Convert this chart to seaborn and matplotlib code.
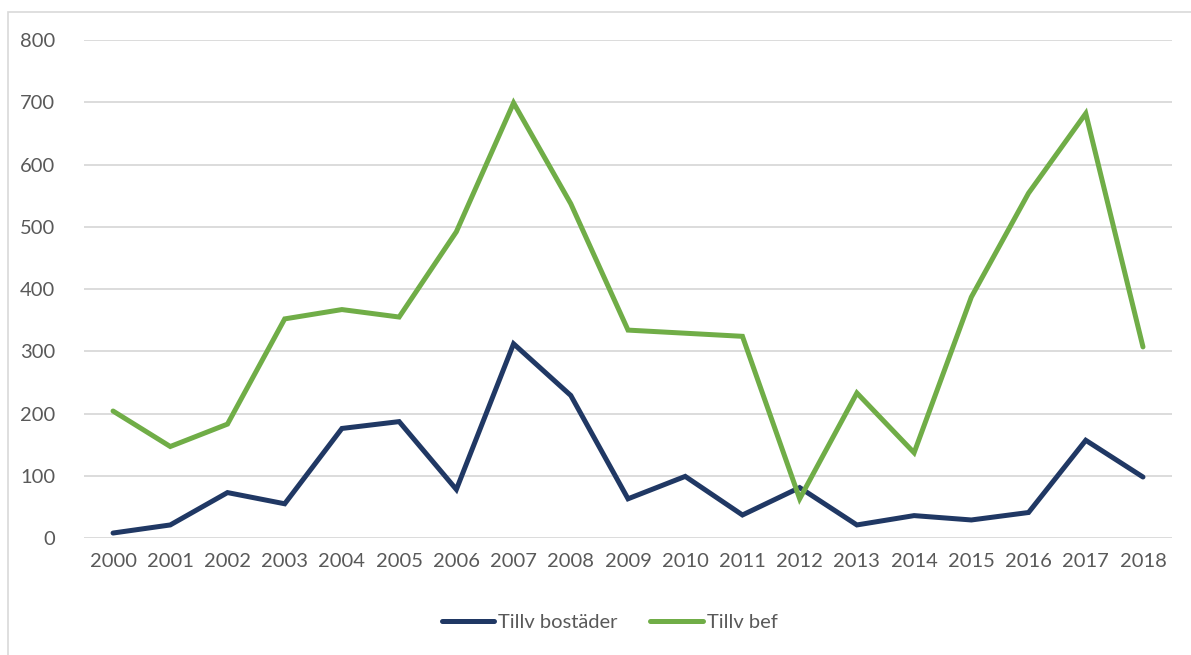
import matplotlib
matplotlib.use("Agg")
import matplotlib.pyplot as plt
import matplotlib.patches as mpatches
import seaborn as sns
import pandas as pd

years = list(range(2000, 2019))
tillv_bostader = [8, 21, 73, 55, 176, 187, 78, 312, 229, 63, 99, 37, 81, 21, 36, 29, 41, 157, 98]
tillv_bef = [204, 147, 183, 352, 367, 355, 492, 699, 537, 334, 329, 324, 63, 233, 137, 387, 554, 682, 307]
series_names = ["Tillv bostäder", "Tillv bef"]
series_colors = ["#203864", "#70AD47"]
y_ticks = [0, 100, 200, 300, 400, 500, 600, 700, 800]

df = pd.DataFrame({
    "År": years * 2,
    "Antal": tillv_bostader + tillv_bef,
    "Serie": [series_names[0]] * len(years) + [series_names[1]] * len(years),
})

sns.set_theme(style="white")
plt.rcParams["font.family"] = ["Lato", "DejaVu Sans"]
text_color = "#595959"
grid_color = "#D9D9D9"

fig = plt.figure(figsize=(11.91, 6.55), dpi=100)
ax = fig.add_axes([0.0709, 0.1786, 0.9128, 0.7603])

sns.lineplot(data=df, x="År", y="Antal", hue="Serie", palette=series_colors,
             linewidth=3.6, ax=ax, legend=False, sort=False)
for line in ax.lines:
    line.set_solid_joinstyle("miter")
    line.set_solid_capstyle("round")
    line.set_clip_on(False)

ax.set_xlim(years[0] - 0.5, years[-1] + 0.5)
ax.set_ylim(0, 800)
ax.set_yticks(y_ticks)
ax.set_yticklabels([str(v) for v in y_ticks])
ax.set_xticks(years)
ax.set_xticklabels([str(y) for y in years])
ax.yaxis.grid(True, color=grid_color, linewidth=1.3)
ax.set_axisbelow(True)
ax.tick_params(axis="both", length=0, labelsize=14.5, labelcolor=text_color)
ax.tick_params(axis="y", pad=21)
ax.tick_params(axis="x", pad=11)
ax.set_xlabel("")
ax.set_ylabel("")
for s in ax.spines.values():
    s.set_visible(False)

handles = [plt.Line2D([], [], color=c, linewidth=3.6, solid_capstyle="round") for c in series_colors]
fig.legend(handles, series_names, loc="center", bbox_to_anchor=(0.512, 0.05), ncol=2,
           frameon=False, fontsize=14.5, labelcolor=text_color, handlelength=2.6,
           handletextpad=0.2, columnspacing=1.6)

# outer chart frame
fig.patches.append(mpatches.Rectangle((0.0067, -0.05), 1.1, 1.0317, transform=fig.transFigure,
                                      fill=False, edgecolor=grid_color, linewidth=1.2))

fig.savefig("out.png", dpi=100, facecolor="white")
